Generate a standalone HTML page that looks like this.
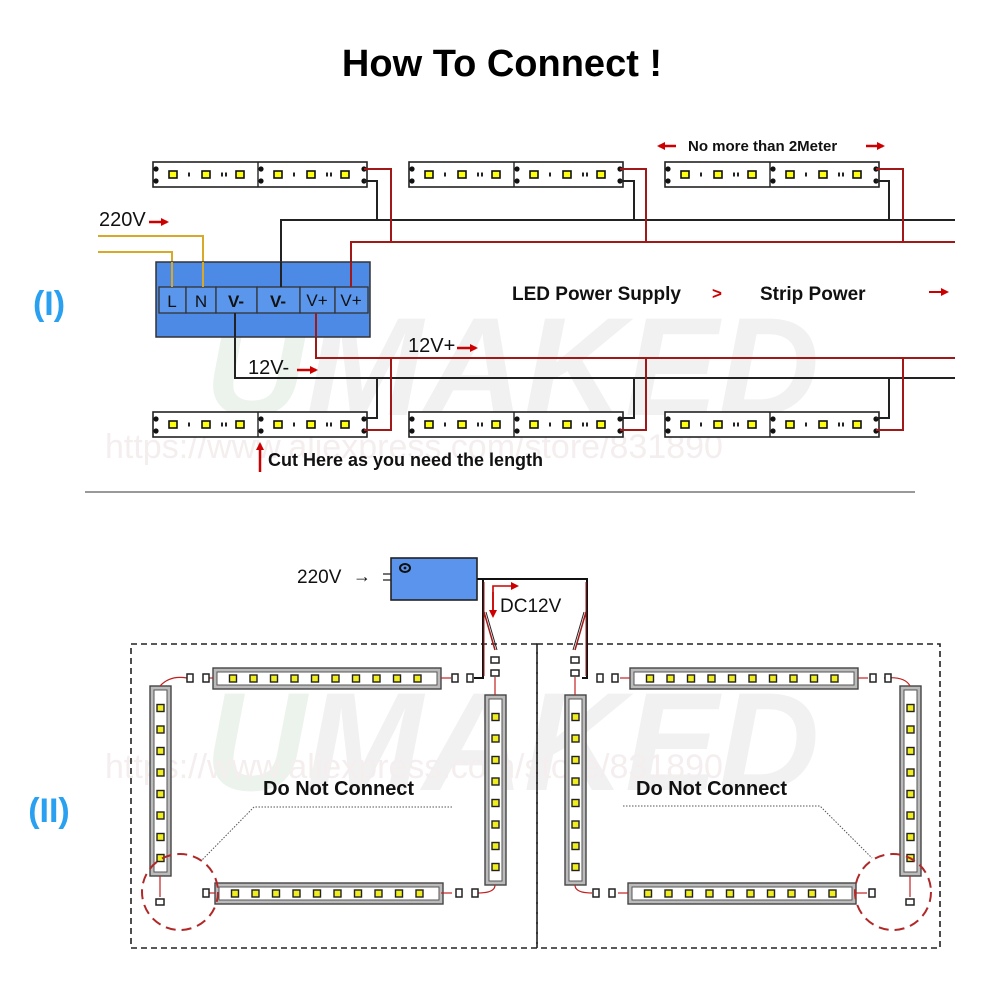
<!DOCTYPE html>
<html><head><meta charset="utf-8"><style>
html,body{margin:0;padding:0;background:#fff;}
svg{display:block;}
text{font-family:"Liberation Sans",sans-serif;}
</style></head><body>
<svg width="1000" height="1000" viewBox="0 0 1000 1000" xmlns="http://www.w3.org/2000/svg">
<defs>
  <g id="hs">
    <circle cx="3" cy="7" r="2.6" fill="#111"/><circle cx="3" cy="19" r="2.6" fill="#111"/>
    <rect x="16" y="9" width="8" height="7" fill="#ffff10" stroke="#111" stroke-width="1.6"/>
    <rect x="49" y="9" width="8" height="7" fill="#ffff10" stroke="#111" stroke-width="1.6"/>
    <rect x="83" y="9" width="8" height="7" fill="#ffff10" stroke="#111" stroke-width="1.6"/>
    <rect x="35" y="10.5" width="2" height="4" fill="#222"/>
    <rect x="68" y="10.5" width="2" height="4" fill="#222"/><rect x="72" y="10.5" width="2" height="4" fill="#222"/>
  </g>
  <g id="pair">
    <rect x="0" y="0" width="214" height="25" fill="#fff" stroke="#222" stroke-width="1.6"/>
    <use href="#hs" x="0" y="0"/><use href="#hs" x="105" y="0"/>
    <line x1="105" y1="0" x2="105" y2="25" stroke="#222" stroke-width="1.4"/>
    <circle cx="211" cy="7" r="2.6" fill="#111"/><circle cx="211" cy="19" r="2.6" fill="#111"/>
  </g>
  <g id="led"><rect x="-3.5" y="-3.5" width="7" height="7" fill="#f0ee20" stroke="#222" stroke-width="1.4"/></g>
  <g id="hstrip">
    <rect x="0" y="0" width="228" height="21" fill="#bbb" stroke="#444" stroke-width="1.4"/>
    <rect x="4" y="4" width="220" height="13" fill="#fff" stroke="#555" stroke-width="1"/>
    <use href="#led" x="20" y="10.5"/><use href="#led" x="40.5" y="10.5"/><use href="#led" x="61" y="10.5"/>
    <use href="#led" x="81.5" y="10.5"/><use href="#led" x="102" y="10.5"/><use href="#led" x="122.5" y="10.5"/>
    <use href="#led" x="143" y="10.5"/><use href="#led" x="163.5" y="10.5"/><use href="#led" x="184" y="10.5"/>
    <use href="#led" x="204.5" y="10.5"/>
  </g>
  <g id="vstrip">
    <rect x="0" y="0" width="21" height="190" fill="#bbb" stroke="#444" stroke-width="1.4"/>
    <rect x="4" y="4" width="13" height="182" fill="#fff" stroke="#555" stroke-width="1"/>
    <use href="#led" x="10.5" y="22"/><use href="#led" x="10.5" y="43.5"/><use href="#led" x="10.5" y="65"/>
    <use href="#led" x="10.5" y="86.5"/><use href="#led" x="10.5" y="108"/><use href="#led" x="10.5" y="129.5"/>
    <use href="#led" x="10.5" y="151"/><use href="#led" x="10.5" y="172"/>
  </g>
  <g id="conn"><rect x="-3" y="-4" width="6" height="8" fill="#fff" stroke="#222" stroke-width="1.5"/></g>
  <marker id="ah" markerWidth="8" markerHeight="8" refX="6" refY="4" orient="auto" markerUnits="userSpaceOnUse"><path d="M0,0 L8,4 L0,8 z" fill="#c00"/></marker>
</defs>

<!-- watermark -->
<text x="205" y="415" font-size="140" font-weight="bold" font-style="italic" fill="#f1f1f1"><tspan fill="#ecf3ec">U</tspan>MAKED</text>
<text x="205" y="790" font-size="140" font-weight="bold" font-style="italic" fill="#f1f1f1"><tspan fill="#ecf3ec">U</tspan>MAKED</text>
<text x="105" y="458" font-size="34" fill="#f5eeee" font-family="Liberation Serif">https://www.aliexpress.com/store/831890</text>
<text x="105" y="778" font-size="34" fill="#f5eeee" font-family="Liberation Serif">https://www.aliexpress.com/store/831890</text>

<text x="502" y="76" font-size="38" font-weight="bold" text-anchor="middle" fill="#000">How To Connect !</text>

<!-- Section I -->
<text x="49" y="315" font-size="34" font-weight="bold" text-anchor="middle" fill="#2aa0f0" font-family="Liberation Mono">(I)</text>
<text x="49" y="822" font-size="34" font-weight="bold" text-anchor="middle" fill="#2aa0f0" font-family="Liberation Mono">(II)</text>

<use href="#pair" x="153" y="162"/><use href="#pair" x="409" y="162"/><use href="#pair" x="665" y="162"/>
<use href="#pair" x="153" y="412"/><use href="#pair" x="409" y="412"/><use href="#pair" x="665" y="412"/>

<g fill="none" stroke-width="2">
  <path d="M281,287 V220 H955" stroke="#222"/>
  <path d="M351,287 V242 H955" stroke="#a01818"/>
  <path d="M364,181 H377 V220" stroke="#222"/><path d="M364,169 H391 V242" stroke="#a01818"/>
  <path d="M620,181 H634 V220" stroke="#222"/><path d="M620,169 H646 V242" stroke="#a01818"/>
  <path d="M876,181 H889 V220" stroke="#222"/><path d="M876,169 H903 V242" stroke="#a01818"/>
  <path d="M235,313 V378 H955" stroke="#222"/>
  <path d="M316,313 V358 H955" stroke="#a01818"/>
  <path d="M364,418 H377 V378" stroke="#222"/><path d="M364,430 H391 V358" stroke="#a01818"/>
  <path d="M620,418 H634 V378" stroke="#222"/><path d="M620,430 H646 V358" stroke="#a01818"/>
  <path d="M876,418 H889 V378" stroke="#222"/><path d="M876,430 H903 V358" stroke="#a01818"/>
  <path d="M98,236 H203 V287" stroke="#d8a82a"/>
  <path d="M98,252 H172 V287" stroke="#d8a82a"/>
</g>
<rect x="156" y="262" width="214" height="75" fill="#4d8ae6" stroke="#333" stroke-width="1.5"/>
<g stroke="#333" stroke-width="1.3" fill="#5a96ec">
  <rect x="159" y="287" width="27" height="26"/><rect x="186" y="287" width="30" height="26"/>
  <rect x="216" y="287" width="41" height="26"/><rect x="257" y="287" width="43" height="26"/>
  <rect x="300" y="287" width="35" height="26"/><rect x="335" y="287" width="33" height="26"/>
</g>
<g font-size="17" fill="#111" text-anchor="middle">
  <text x="172" y="307">L</text><text x="201" y="307">N</text>
  <text x="236" y="307" font-weight="bold">V-</text><text x="278" y="307" font-weight="bold">V-</text>
  <text x="317" y="306">V+</text><text x="351" y="306">V+</text>
</g>
<path d="M281,287 V262" stroke="#222" stroke-width="2"/><path d="M351,287 V262" stroke="#a01818" stroke-width="2"/>
<path d="M235,313 V337" stroke="#222" stroke-width="2"/><path d="M316,313 V337" stroke="#a01818" stroke-width="2"/>
<path d="M203,287 V262" stroke="#d8a82a" stroke-width="2"/><path d="M172,287 V262" stroke="#d8a82a" stroke-width="2"/>

<text x="99" y="226" font-size="20" fill="#111">220V</text>
<line x1="149" y1="222" x2="167" y2="222" stroke="#c00" stroke-width="2.5" marker-end="url(#ah)"/>
<text x="408" y="352" font-size="20" fill="#111">12V+</text>
<line x1="457" y1="348" x2="476" y2="348" stroke="#c00" stroke-width="2.5" marker-end="url(#ah)"/>
<text x="248" y="374" font-size="20" fill="#111">12V-</text>
<line x1="297" y1="370" x2="316" y2="370" stroke="#c00" stroke-width="2.5" marker-end="url(#ah)"/>

<text x="512" y="300" font-size="19" font-weight="bold" fill="#111">LED Power Supply</text>
<text x="712" y="299" font-size="17" font-weight="bold" fill="#c00">&gt;</text>
<text x="760" y="300" font-size="19" font-weight="bold" fill="#111">Strip Power</text>
<line x1="929" y1="292" x2="947" y2="292" stroke="#c00" stroke-width="2" marker-end="url(#ah)"/>

<text x="688" y="151" font-size="15" font-weight="bold" fill="#111">No more than 2Meter</text>
<line x1="676" y1="146" x2="659" y2="146" stroke="#c00" stroke-width="2.5" marker-end="url(#ah)"/>
<line x1="866" y1="146" x2="883" y2="146" stroke="#c00" stroke-width="2.5" marker-end="url(#ah)"/>

<line x1="260" y1="472" x2="260" y2="444" stroke="#c00" stroke-width="2.5" marker-end="url(#ah)"/>
<text x="268" y="466" font-size="18" font-weight="bold" fill="#111">Cut Here as you need the length</text>

<line x1="85" y1="492" x2="915" y2="492" stroke="#999" stroke-width="2"/>

<!-- Section II -->
<rect x="131" y="644" width="406" height="304" fill="none" stroke="#222" stroke-width="1.6" stroke-dasharray="6,4"/>
<rect x="537" y="644" width="403" height="304" fill="none" stroke="#222" stroke-width="1.6" stroke-dasharray="6,4"/>

<text x="297" y="583" font-size="19" fill="#111">220V</text>
<text x="353" y="582" font-size="18" font-weight="bold" fill="#111">→</text>
<line x1="383" y1="574" x2="391" y2="574" stroke="#444" stroke-width="1.5"/>
<line x1="383" y1="580" x2="391" y2="580" stroke="#444" stroke-width="1.5"/>
<rect x="391" y="558" width="86" height="42" fill="#5a94ec" stroke="#222" stroke-width="1.6"/>
<ellipse cx="405" cy="568" rx="5" ry="4" fill="none" stroke="#111" stroke-width="2"/>
<circle cx="405" cy="568" r="1.4" fill="#111"/>
<path d="M477,579 H587 V678 H582" fill="none" stroke="#111" stroke-width="2"/>
<path d="M483,579 V678 H474" fill="none" stroke="#111" stroke-width="2"/>
<path d="M484,582 V676" fill="none" stroke="#a01818" stroke-width="1"/>
<path d="M586,582 V676" fill="none" stroke="#a01818" stroke-width="1"/>
<path d="M493,614 V586 H517" fill="none" stroke="#c00" stroke-width="1.6" marker-end="url(#ah)"/>
<path d="M493,592 V616" fill="none" stroke="#c00" stroke-width="1.6" marker-end="url(#ah)"/>
<text x="500" y="612" font-size="19" fill="#111">DC12V</text>
<path d="M484,612 L495,650" stroke="#a01818" stroke-width="1.5"/><path d="M486,612 L497,650" stroke="#222" stroke-width="1"/>
<path d="M586,612 L575,650" stroke="#a01818" stroke-width="1.5"/><path d="M584,612 L573,650" stroke="#222" stroke-width="1"/>

<use href="#hstrip" x="213" y="668"/><use href="#hstrip" x="215" y="883"/>
<use href="#vstrip" x="150" y="686"/><use href="#vstrip" x="485" y="695"/>
<use href="#hstrip" x="630" y="668"/><use href="#hstrip" x="628" y="883"/>
<use href="#vstrip" x="565" y="695"/><use href="#vstrip" x="900" y="686"/>

<g fill="none" stroke="#c02020" stroke-width="1.2">
  <path d="M213,678 L203,678"/><path d="M187,678 Q170,675 160,686"/>
  <path d="M441,678 L451,678"/><path d="M495,695 L495,677"/>
  <path d="M495,885 Q495,893 478,893"/><path d="M441,893 L452,893"/>
  <path d="M215,893 L203,893"/><path d="M160,876 L160,897"/>
  <path d="M575,695 L575,677"/><path d="M630,678 L620,678"/>
  <path d="M575,885 Q575,893 592,893"/><path d="M628,893 L618,893"/>
  <path d="M858,678 L868,678"/><path d="M884,678 Q905,676 910,686"/>
  <path d="M856,893 L867,893"/><path d="M910,876 L910,897"/>
</g>
<g>
  <use href="#conn" x="190" y="678"/><use href="#conn" x="206" y="678"/>
  <use href="#conn" x="455" y="678"/><use href="#conn" x="470" y="678"/>
  <use href="#conn" x="495" y="660" transform="rotate(90 495 660)"/><use href="#conn" x="495" y="673" transform="rotate(90 495 673)"/>
  <use href="#conn" x="475" y="893"/><use href="#conn" x="459" y="893"/>
  <use href="#conn" x="206" y="893"/><use href="#conn" x="160" y="902" transform="rotate(90 160 902)"/>
  <use href="#conn" x="575" y="660" transform="rotate(90 575 660)"/><use href="#conn" x="575" y="673" transform="rotate(90 575 673)"/>
  <use href="#conn" x="600" y="678"/><use href="#conn" x="615" y="678"/>
  <use href="#conn" x="596" y="893"/><use href="#conn" x="612" y="893"/>
  <use href="#conn" x="873" y="678"/><use href="#conn" x="888" y="678"/>
  <use href="#conn" x="872" y="893"/><use href="#conn" x="910" y="902" transform="rotate(90 910 902)"/>
</g>

<circle cx="180" cy="892" r="38" fill="none" stroke="#b02828" stroke-width="2" stroke-dasharray="10,6"/>
<circle cx="893" cy="892" r="38" fill="none" stroke="#b02828" stroke-width="2" stroke-dasharray="10,6"/>
<path d="M452,807 H254 L202,860" fill="none" stroke="#555" stroke-width="1" stroke-dasharray="1.5,1.5"/>
<path d="M623,806 H820 L872,858" fill="none" stroke="#555" stroke-width="1" stroke-dasharray="1.5,1.5"/>
<text x="263" y="795" font-size="20" font-weight="bold" fill="#111">Do Not Connect</text>
<text x="636" y="795" font-size="20" font-weight="bold" fill="#111">Do Not Connect</text>
</svg>
</body></html>
